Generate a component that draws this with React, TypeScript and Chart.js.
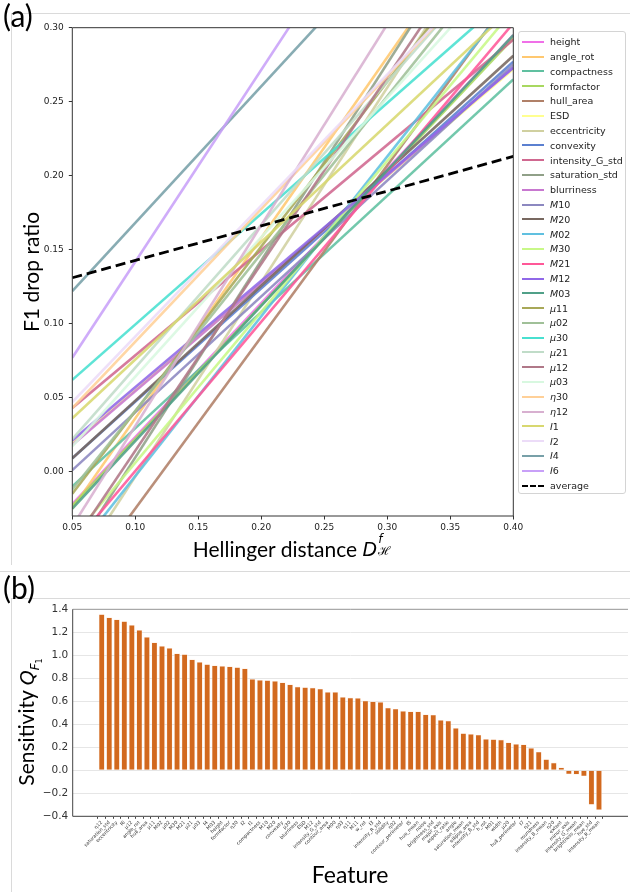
import React, { useEffect, useRef } from "react";
import { Chart, registerables } from "chart.js";
Chart.register(...registerables);

// ---------- Panel (a) data ----------
const hellingerRange = [0.05, 0.4];
const legendFeatures = [
  "height", "angle_rot", "compactness", "formfactor", "hull_area", "ESD", "eccentricity",
  "convexity", "intensity_G_std", "saturation_std", "blurriness", "M10", "M20", "M02",
  "M30", "M21", "M12", "M03", "μ11", "μ02", "μ30", "μ21", "μ12", "μ03", "η30", "η12",
  "I1", "I2", "I4", "I6",
];
const lineColors = [
  "#f070e8", "#ffc870", "#60c0a0", "#a8d860", "#b08068", "#ffff90", "#d0d0a0",
  "#5b80d0", "#d06890", "#90a088", "#c878d0", "#8c88c0", "#786860", "#60c0e0",
  "#c8f888", "#ff5898", "#9068e8", "#50a088", "#a8a858", "#a0c098", "#48e0d0",
  "#c0dcc8", "#b07888", "#d8f8e0", "#ffd098", "#d8b0d0", "#d8d870", "#ecdcf8",
  "#78a0a8", "#c8a0f8",
];
// F1 drop ratio at D = 0.05
const f1DropAtLow = [
  -0.022, -0.025, -0.01, -0.023, -0.083, 0.019, -0.069, 0.009, 0.043, -0.057, 0.018,
  0.001, 0.009, -0.057, -0.045, -0.05, 0.021, -0.025, -0.015, -0.012, 0.062, 0.022,
  -0.049, 0.017, 0.043, -0.037, 0.036, 0.047, 0.122, 0.077,
];
// F1 drop ratio at D = 0.40
const f1DropAtHigh = [
  0.295, 0.402, 0.265, 0.293, 0.323, 0.272, 0.391, 0.277, 0.292, 0.409, 0.273,
  0.275, 0.281, 0.321, 0.312, 0.303, 0.273, 0.295, 0.375, 0.36, 0.324, 0.36,
  0.393, 0.347, 0.357, 0.438, 0.314, 0.357, 0.445, 0.531,
];
const averageF1Drop = [0.131, 0.213];
const xTicksA = [0.05, 0.1, 0.15, 0.2, 0.25, 0.3, 0.35, 0.4];
const yTicksA = [0, 0.05, 0.1, 0.15, 0.2, 0.25, 0.3];

// ---------- Panel (b) data ----------
const barFeatures = [
  "η12", "saturation_std", "eccentricity", "I6", "μ12", "angle_rot", "hull_area", "μ11",
  "M02", "μ02", "M30", "M21", "μ21", "μ03", "I4", "M03", "height", "formfactor", "η30",
  "I2", "I1", "compactness", "M10", "M20", "convexity", "μ30", "blurriness", "ESD", "M12",
  "intensity_G_std", "contour_area", "M00", "η03", "η11", "M11", "w_rot", "I3",
  "intensity_R_std", "solidity", "η02", "contour_perimeter", "I5", "hue_mean", "noise",
  "brightness_std", "major_axis", "aspect_ratio", "angle", "saturation_mean", "ellipse_area",
  "intensity_B_std", "h_rot", "M01", "width", "μ20", "hull_perimeter", "I7", "η21",
  "roundness", "intensity_B_mean", "η20", "extent", "minor_axis", "intensity_G_mean",
  "brightness_mean", "hue_std", "intensity_R_mean",
];
const sensitivity = [
  1.357, 1.33, 1.313, 1.296, 1.264, 1.22, 1.159, 1.113, 1.081, 1.064, 1.017, 1.009, 0.965,
  0.942, 0.922, 0.913, 0.907, 0.904, 0.896, 0.887, 0.794, 0.786, 0.783, 0.777, 0.765, 0.748,
  0.728, 0.722, 0.719, 0.71, 0.681, 0.681, 0.638, 0.632, 0.629, 0.606, 0.6, 0.594, 0.545,
  0.536, 0.516, 0.513, 0.513, 0.487, 0.484, 0.438, 0.432, 0.368, 0.322, 0.316, 0.31, 0.272,
  0.27, 0.267, 0.243, 0.229, 0.226, 0.194, 0.162, 0.096, 0.067, 0.026, -0.035, -0.038,
  -0.052, -0.3, -0.345,
];
const yTicksB = [-0.4, -0.2, 0, 0.2, 0.4, 0.6, 0.8, 1.0, 1.2, 1.4];

const TICK_FONT = "DejaVu Sans";
const TITLE_FONT = "Lato, 'Open Sans', sans-serif";
const MATH_FONT = "'DejaVu Sans'";

const framePlugin = {
  id: "frame",
  afterDatasetsDraw(chart: any, _args: any, opts: any) {
    if (!opts || !opts.sides) return;
    const { ctx, chartArea } = chart;
    const { left, right, top, bottom } = chartArea;
    ctx.save();
    ctx.lineWidth = opts.width || 1;
    for (const s of opts.sides) {
      ctx.strokeStyle = (opts.colors && opts.colors[s]) || opts.color || "#333";
      ctx.beginPath();
      if (s === "top") { ctx.moveTo(left, top); ctx.lineTo(right, top); }
      if (s === "bottom") { ctx.moveTo(left, bottom); ctx.lineTo(right, bottom); }
      if (s === "left") { ctx.moveTo(left, top); ctx.lineTo(left, bottom); }
      if (s === "right") { ctx.moveTo(right, top); ctx.lineTo(right, bottom); }
      ctx.stroke();
    }
    ctx.restore();
  },
};

function MathLabel({ name }: { name: string }) {
  const m = name.match(/^([MμηI])(\d+)$/);
  if (!m) return <span>{name}</span>;
  return (
    <span>
      <i>{m[1]}</i>
      {m[2]}
    </span>
  );
}

function LineChartA() {
  const ref = useRef<HTMLCanvasElement>(null);
  useEffect(() => {
    if (!ref.current) return;
    const datasets: any[] = legendFeatures.map((name, i) => ({
      label: name,
      data: [
        { x: hellingerRange[0], y: f1DropAtLow[i] },
        { x: hellingerRange[1], y: f1DropAtHigh[i] },
      ],
      borderColor: lineColors[i] + "e0",
      borderWidth: 2.6,
      pointRadius: 0,
      tension: 0,
      order: legendFeatures.length - i,
    }));
    datasets.push({
      label: "average",
      data: [
        { x: hellingerRange[0], y: averageF1Drop[0] },
        { x: hellingerRange[1], y: averageF1Drop[1] },
      ],
      borderColor: "#000",
      borderWidth: 2.8,
      borderDash: [10, 5],
      pointRadius: 0,
      order: 0,
    });
    const chart = new Chart(ref.current, {
      type: "line",
      data: { datasets },
      plugins: [framePlugin],
      options: {
        animation: false,
        responsive: false,
        devicePixelRatio: 1,
        layout: { padding: { top: 27.7, right: 16.7, left: 0, bottom: 0 } },
        plugins: {
          legend: { display: false },
          tooltip: { enabled: false },
          frame: { sides: ["top", "right", "bottom", "left"], color: "#333", width: 1 },
        } as any,
        scales: {
          x: {
            type: "linear",
            min: 0.05,
            max: 0.4,
            afterBuildTicks: (s: any) => { s.ticks = xTicksA.map((v) => ({ value: v })); },
            afterFit: (s: any) => { s.height = 29; },
            ticks: {
              callback: (v: any) => Number(v).toFixed(2),
              font: { family: TICK_FONT, size: 9 },
              color: "#222",
              padding: 3,
              maxRotation: 0,
            },
            grid: { drawOnChartArea: false, drawTicks: true, tickLength: 3.5, tickColor: "#333" },
            border: { display: false },
          },
          y: {
            type: "linear",
            min: -0.03,
            max: 0.3,
            afterBuildTicks: (s: any) => { s.ticks = yTicksA.map((v) => ({ value: v })); },
            afterFit: (s: any) => { s.width = 72.3; },
            ticks: {
              callback: (v: any) => Number(v).toFixed(2),
              font: { family: TICK_FONT, size: 9 },
              color: "#222",
              padding: 5,
            },
            grid: { drawOnChartArea: false, drawTicks: true, tickLength: 3.5, tickColor: "#333" },
            border: { display: false },
          },
        },
      } as any,
    });
    return () => chart.destroy();
  }, []);
  return (
    <canvas
      ref={ref}
      width={530}
      height={545}
      style={{ position: "absolute", left: 0, top: 0, width: 530, height: 545 }}
    />
  );
}

function BarChartB() {
  const ref = useRef<HTMLCanvasElement>(null);
  useEffect(() => {
    if (!ref.current) return;
    const chart = new Chart(ref.current, {
      type: "bar",
      data: {
        datasets: [
          {
            label: "Sensitivity",
            data: sensitivity.map((v, i) => ({ x: i, y: v })),
            backgroundColor: "#d2691e",
            borderColor: "rgba(255,235,220,0.8)",
            borderWidth: 0.6,
            barPercentage: 0.8,
            categoryPercentage: 1,
          },
        ],
      },
      plugins: [framePlugin],
      options: {
        animation: false,
        responsive: false,
        devicePixelRatio: 1,
        layout: { padding: { top: 11.3, right: 2, left: 0, bottom: 0 } },
        plugins: {
          legend: { display: false },
          tooltip: { enabled: false },
          frame: {
            sides: ["top", "bottom", "left"],
            colors: { top: "#999", bottom: "#444", left: "#444" },
            width: 1,
          },
        } as any,
        scales: {
          x: {
            type: "linear",
            min: -3.85,
            max: 69.85,
            offset: false,
            afterBuildTicks: (s: any) => { s.ticks = barFeatures.map((_, i) => ({ value: i })); },
            afterFit: (s: any) => { s.height = 75.7; },
            ticks: {
              autoSkip: false,
              minRotation: 45,
              maxRotation: 45,
              callback: (v: any) => barFeatures[Math.round(Number(v))] ?? "",
              font: { family: TICK_FONT, size: 4.8 },
              color: "#333",
              padding: 1,
            },
            grid: { drawOnChartArea: false, drawTicks: true, tickLength: 2.5, tickColor: "#444" },
            border: { display: false },
          },
          y: {
            type: "linear",
            min: -0.4,
            max: 1.4,
            afterBuildTicks: (s: any) => { s.ticks = yTicksB.map((v) => ({ value: v })); },
            afterFit: (s: any) => { s.width = 72.7; },
            ticks: {
              callback: (v: any) => {
                const n = Number(v);
                const t = Math.abs(n).toFixed(1);
                return n < -1e-9 ? "\u2212" + t : t;
              },
              font: { family: TICK_FONT, size: 10.5 },
              color: "#333",
              padding: 4.4,
            },
            grid: { color: "#e6e6e6", lineWidth: 1, drawTicks: false },
            border: { display: false },
          },
        },
      } as any,
    });
    return () => chart.destroy();
  }, []);
  return (
    <canvas
      ref={ref}
      width={630}
      height={294}
      style={{ position: "absolute", left: 0, top: 598, width: 630, height: 294 }}
    />
  );
}

function Legend() {
  const items = [...legendFeatures, "average"];
  return (
    <div
      style={{
        position: "absolute",
        left: 518,
        top: 31,
        width: 108,
        height: 463,
        border: "1px solid #d4d4d4",
        borderRadius: 3,
        background: "rgba(255,255,255,0.85)",
        boxSizing: "border-box",
      }}
    >
      {items.map((name, i) => {
        const isAvg = name === "average";
        const cy = 41.3 + i * 14.79 - 31;
        return (
          <div key={name}>
            <div
              style={{
                position: "absolute",
                left: 3,
                top: cy - 1.4,
                width: 22,
                height: 0,
                borderTop: isAvg ? "2.8px dashed #000" : `2.7px solid ${lineColors[i]}`,
              }}
            />
            <div
              style={{
                position: "absolute",
                left: 31,
                top: cy - 7,
                height: 14,
                lineHeight: "14px",
                fontFamily: TICK_FONT,
                fontSize: 9.5,
                color: "#222",
                whiteSpace: "nowrap",
              }}
            >
              <MathLabel name={name} />
            </div>
          </div>
        );
      })}
    </div>
  );
}

export default function App() {
  useEffect(() => {
    document.body.style.margin = "0";
  }, []);
  const grey = "#dadada";
  return (
    <div
      style={{
        position: "absolute",
        left: 0,
        top: 0,
        width: 630,
        height: 892,
        background: "#fff",
        overflow: "hidden",
      }}
    >
      {/* faint frame lines of the composed figure */}
      <div style={{ position: "absolute", left: 11, top: 13, width: 619, height: 1, background: grey }} />
      <div style={{ position: "absolute", left: 11, top: 13, width: 1, height: 552, background: grey }} />
      <div style={{ position: "absolute", left: 0, top: 571, width: 630, height: 1, background: grey }} />
      <div style={{ position: "absolute", left: 11, top: 598, width: 619, height: 1, background: grey }} />
      <div style={{ position: "absolute", left: 11, top: 598, width: 1, height: 294, background: grey }} />

      <LineChartA />
      <Legend />
      <BarChartB />

      {/* panel labels */}
      <div style={{ position: "absolute", left: 3, top: -2, fontFamily: TITLE_FONT, fontSize: 30, lineHeight: "34px", color: "#000" }}>(a)</div>
      <div style={{ position: "absolute", left: 3, top: 570, fontFamily: TITLE_FONT, fontSize: 30, lineHeight: "34px", color: "#000" }}>(b)</div>

      {/* axis titles panel (a) */}
      <div
        style={{
          position: "absolute",
          left: 30,
          top: 272,
          transform: "translate(-50%, -50%) rotate(-90deg)",
          fontFamily: TITLE_FONT,
          fontSize: 21,
          whiteSpace: "nowrap",
          color: "#000",
        }}
      >
        F1 drop ratio
      </div>
      <div
        style={{
          position: "absolute",
          left: 292,
          top: 548,
          transform: "translate(-50%, -50%)",
          fontFamily: TITLE_FONT,
          fontSize: 21,
          whiteSpace: "nowrap",
          color: "#000",
          display: "flex",
          alignItems: "center",
        }}
      >
        <span>Hellinger distance&nbsp;</span>
        <span style={{ fontFamily: MATH_FONT, fontStyle: "italic", fontSize: 19 }}>D</span>
        <span
          style={{
            display: "inline-flex",
            flexDirection: "column",
            fontFamily: MATH_FONT,
            fontStyle: "italic",
            fontSize: 12,
            lineHeight: "12px",
            marginLeft: 1,
          }}
        >
          <span style={{ marginTop: -8 }}>f</span>
          <span style={{ fontStyle: "normal", fontFamily: "'DejaVu Serif'" }}>ℋ</span>
        </span>
      </div>

      {/* axis titles panel (b) */}
      <div
        style={{
          position: "absolute",
          left: 28,
          top: 722,
          transform: "translate(-50%, -50%) rotate(-90deg)",
          fontFamily: TITLE_FONT,
          fontSize: 21,
          whiteSpace: "nowrap",
          color: "#000",
        }}
      >
        Sensitivity{" "}
        <span style={{ fontFamily: MATH_FONT, fontStyle: "italic", fontSize: 19 }}>
          Q<sub style={{ fontSize: 12, verticalAlign: -5 }}>F<sub style={{ fontSize: 8, verticalAlign: -3, fontStyle: "normal" }}>1</sub></sub>
        </span>
      </div>
      <div
        style={{
          position: "absolute",
          left: 350,
          top: 874,
          transform: "translate(-50%, -50%)",
          fontFamily: TITLE_FONT,
          fontSize: 23,
          whiteSpace: "nowrap",
          color: "#000",
        }}
      >
        Feature
      </div>
    </div>
  );
}
